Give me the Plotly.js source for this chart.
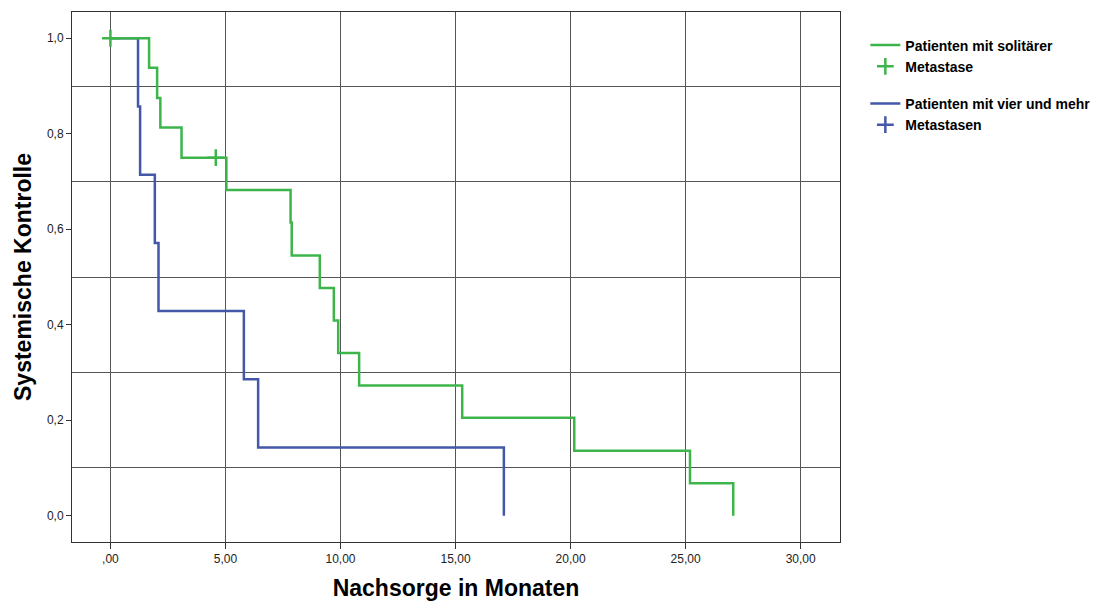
<!DOCTYPE html>
<html>
<head>
<meta charset="utf-8">
<script src="https://cdn.plot.ly/plotly-3.0.1.min.js"></script>
<style>html,body{margin:0;padding:0;background:#fff;}</style>
</head>
<body>
<div id="chart" style="width:1095px;height:605px;"></div>
<script>
// Kaplan-Meier: Patienten mit solitärer Metastase
const soloTime = [0, 1.68, 2.03, 2.17, 3.09, 5.04, 7.83, 7.88, 9.10, 9.71, 9.90, 10.81, 15.29, 20.16, 25.19, 27.07];
const soloSurv = [1, 0.938, 0.875, 0.813, 0.75, 0.682, 0.614, 0.545, 0.477, 0.409, 0.341, 0.273, 0.205, 0.136, 0.068, 0];
const soloCensTime = [0, 4.58];
const soloCensSurv = [1, 0.75];

// Kaplan-Meier: Patienten mit vier und mehr Metastasen (no censored cases visible)
const multiTime = [0, 1.20, 1.29, 1.93, 2.09, 5.80, 6.42, 17.10];
const multiSurv = [1, 0.857, 0.714, 0.571, 0.429, 0.286, 0.143, 0];
const multiCensTime = [null];
const multiCensSurv = [null];

const xTickVals = [0, 5, 10, 15, 20, 25, 30];
const xTickText = [",00", "5,00", "10,00", "15,00", "20,00", "25,00", "30,00"];
const yTickVals = [0, 0.2, 0.4, 0.6, 0.8, 1.0];
const yTickText = ["0,0", "0,2", "0,4", "0,6", "0,8", "1,0"];
const yGridVals = [0.1, 0.3, 0.5, 0.7, 0.9];

const green = "#3db54a";
const blue = "#4457a8";

const traces = [
  {x: multiTime, y: multiSurv, mode: "lines", line: {shape: "hv", color: blue, width: 2.5},
   name: "Patienten mit vier und mehr", legendgroup: "b", legendrank: 3},
  {x: multiCensTime, y: multiCensSurv, mode: "markers",
   marker: {symbol: "cross-thin", size: 12, color: blue, line: {color: blue, width: 2.5}},
   name: "Metastasen", legendgroup: "b", legendrank: 4},
  {x: soloTime, y: soloSurv, mode: "lines", line: {shape: "hv", color: green, width: 2.5},
   name: "Patienten mit solitärer", legendgroup: "a", legendrank: 1},
  {x: soloCensTime, y: soloCensSurv, mode: "markers",
   marker: {symbol: "cross-thin", size: 12, color: green, line: {color: green, width: 2.5}},
   name: "Metastase", legendgroup: "a", legendrank: 2}
];

const layout = {
  width: 1095, height: 605,
  margin: {l: 72, r: 255, t: 12, b: 63, autoexpand: false},
  paper_bgcolor: "#fff", plot_bgcolor: "#fff",
  font: {family: "Liberation Sans, Arial, sans-serif", color: "#222", size: 12},
  xaxis: {
    range: [-1.67, 31.71], tickmode: "array", tickvals: xTickVals, ticktext: xTickText,
    ticks: "outside", ticklen: 6, tickcolor: "#333", tickwidth: 1,
    showgrid: true, gridcolor: "#555", gridwidth: 1, zeroline: false,
    showline: true, mirror: true, linecolor: "#333", linewidth: 1,
    tickfont: {size: 12, color: "#222"},
    title: {text: "Nachsorge in Monaten", font: {size: 23, color: "#000", weight: "bold"}, standoff: 14}
  },
  yaxis: {
    range: [-0.055, 1.055], tickmode: "array", tickvals: yTickVals, ticktext: yTickText,
    ticks: "outside", ticklen: 5, tickcolor: "#333", tickwidth: 1,
    showgrid: false, zeroline: false,
    showline: true, mirror: true, linecolor: "#333", linewidth: 1,
    tickfont: {size: 12, color: "#222"},
    minor: {tickmode: "array", tickvals: yGridVals, showgrid: true, gridcolor: "#555", gridwidth: 1, ticks: ""},
    title: {text: "Systemische Kontrolle", font: {size: 23, color: "#000", weight: "bold"}, standoff: 8}
  },
  showlegend: true,
  legend: {
    x: 1.033, y: 0.967, xanchor: "left", yanchor: "top",
    font: {size: 14, color: "#000", weight: "bold"},
    itemwidth: 30, tracegroupgap: 16, bgcolor: "rgba(0,0,0,0)", traceorder: "grouped"
  }
};

Plotly.newPlot("chart", traces, layout, {displayModeBar: false, staticPlot: true});
</script>
</body>
</html>
